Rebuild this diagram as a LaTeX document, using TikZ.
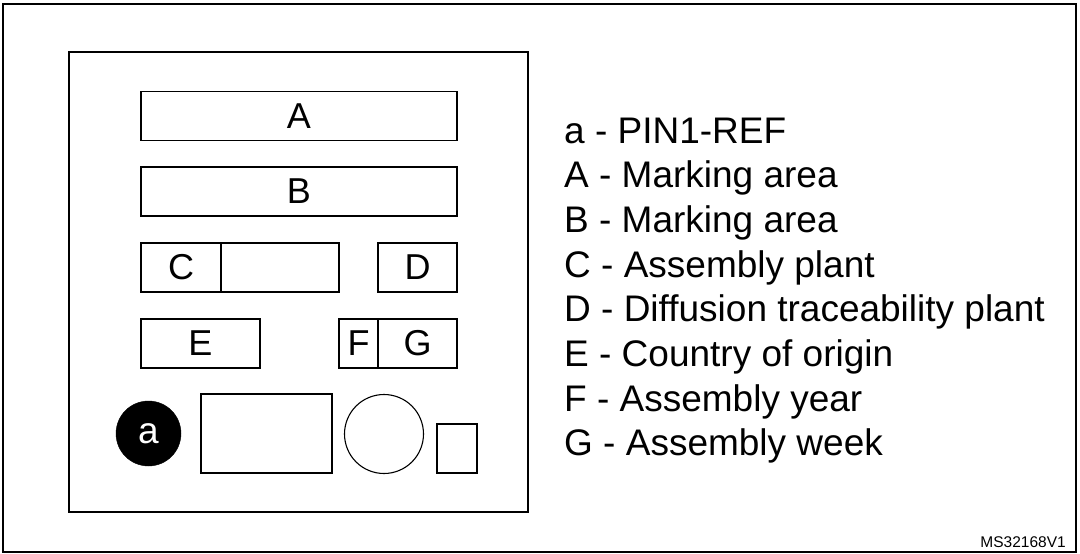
\documentclass[tikz,border=0pt]{standalone}
\usepackage{fontspec}
\setmainfont{Liberation Sans}
\begin{document}
\begin{tikzpicture}[x=1pt,y=-1pt,
  box/.style={draw=black, line width=1.1pt, inner sep=0pt, font=\fontsize{36}{40}\selectfont},
  legend/.style={anchor=base west, inner sep=0pt, font=\fontsize{37}{44}\selectfont},
  frame/.style={draw=black, line width=2.2pt},
  inframe/.style={draw=black, line width=1.4pt}]
\useasboundingbox (0,0) rectangle (1080,554);
\fill[white] (0,0) rectangle (1080,554);
% frames
\node[frame, minimum width=1073, minimum height=548, inner sep=0pt] (outer) at (539.5,278) {};
\node[inframe, minimum width=459, minimum height=460, inner sep=0pt] (inner) at (298.5,282) {};
% marking boxes
\node[box, minimum width=316, minimum height=49] (A) at (299,116) {A};
\node[box, minimum width=316, minimum height=49] (B) at (299,191.5) {B};
\node[box, minimum width=80, minimum height=49] (C) at (181,267.5) {C};
\node[box, minimum width=118, minimum height=49] (C2) at (280,267.5) {};
\node[box, minimum width=79, minimum height=49] (D) at (417.5,267.5) {D};
\node[box, minimum width=119, minimum height=49] (E) at (200.5,343.5) {E};
\node[box, minimum width=39, minimum height=49] (F) at (358.5,343.5) {F};
\node[box, minimum width=79, minimum height=49] (G) at (417.5,343.5) {G};
% bottom row
\node[circle, fill=black, draw=black, minimum size=65, inner sep=0pt, text=white, font=\fontsize{37}{40}\selectfont] (pin) at (148.5,433.5) {a};
\node[box, minimum width=131, minimum height=79] (R1) at (266.5,433.5) {};
\node[box, circle, minimum size=79] (O1) at (384,434) {};
\node[box, minimum width=40, minimum height=49] (R2) at (457,448.5) {};
% legend
\node[legend] (la) at (564,143) {a - PIN1-REF};
\node[legend] (lA) at (564,187.7) {A - Marking area};
\node[legend] (lB) at (564,232.4) {B - Marking area};
\node[legend] (lC) at (564,277.1) {C - Assembly plant};
\node[legend] (lD) at (564,321.8) {D - Diffusion traceability plant};
\node[legend] (lE) at (564,366.5) {E - Country of origin};
\node[legend] (lF) at (564,411.2) {F - Assembly year};
\node[legend] (lG) at (564,455.9) {G - Assembly week};
\node[anchor=base east, inner sep=0pt, font=\fontsize{15.5}{18}\selectfont] (ref) at (1066,547) {MS32168V1};
\end{tikzpicture}
\end{document}
